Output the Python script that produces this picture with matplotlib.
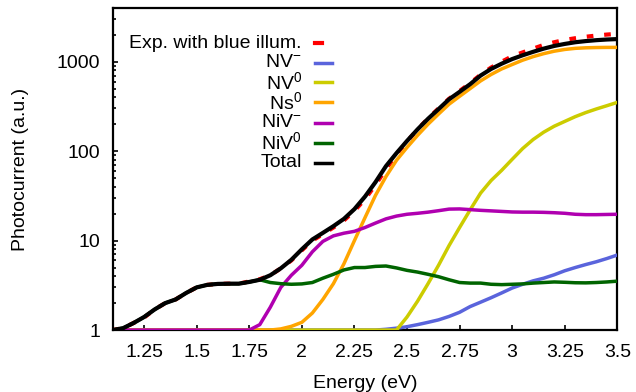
import numpy as np
import matplotlib
matplotlib.use("Agg")
import matplotlib.pyplot as plt
from matplotlib.lines import Line2D
from matplotlib.ticker import NullFormatter, LogLocator

plt.rcParams['font.family'] = ['Liberation Sans', 'DejaVu Sans']
plt.rcParams['mathtext.fontset'] = 'custom'
plt.rcParams['mathtext.rm'] = 'Liberation Sans'
plt.rcParams['mathtext.it'] = 'Liberation Sans:italic'
plt.rcParams['mathtext.default'] = 'regular'

# energy grid (eV), 0.05 step
energy = np.round(np.arange(1.10, 3.5001, 0.05), 2)

exp_blue = [1.0, 1.05, 1.2, 1.38, 1.7, 2.0, 2.2, 2.6, 3.0, 3.2, 3.28, 3.3, 3.3, 3.5, 3.7,
            4.1, 4.9, 6.0, 7.8, 10.0, 11.8, 14.0, 16.8, 21.5, 29, 42, 63, 92, 128, 175,
            232, 300, 385, 470, 575, 715, 860, 1000, 1150, 1270, 1400, 1540, 1650, 1750,
            1830, 1900, 1960, 2010, 2050]
nv_minus = [1.0] * 26 + [1.02, 1.05, 1.09, 1.15, 1.22, 1.3, 1.42, 1.58, 1.83, 2.05, 2.3,
                         2.6, 2.95, 3.25, 3.55, 3.8, 4.15, 4.6, 5.0, 5.4, 5.8, 6.3, 6.9]
nv_zero = [1.0] * 28 + [1.4, 2.1, 3.3, 5.3, 8.8, 14, 22, 34, 47, 61, 81, 107, 135, 163,
                        190, 215, 243, 270, 296, 322, 351]
ns_zero = [1.0] * 16 + [1.03, 1.1, 1.22, 1.55, 2.2, 3.3, 5.5, 10, 18, 32, 52, 79, 110, 150,
                        200, 260, 335, 410, 500, 610, 720, 830, 930, 1040, 1140, 1230,
                        1310, 1370, 1410, 1430, 1440, 1445, 1445]
niv_minus = [1.0] * 14 + [1.15, 1.8, 3.0, 4.1, 5.3, 7.5, 9.8, 11.3, 12.1, 12.7, 14, 15.7,
                          17.5, 18.8, 19.7, 20.2, 20.8, 21.6, 22.5, 22.6, 22.2, 21.8, 21.5,
                          21.2, 20.9, 20.8, 20.8, 20.7, 20.5, 20.2, 19.7, 19.5, 19.5, 19.6,
                          19.7]
niv_zero = [1.0, 1.05, 1.2, 1.4, 1.7, 2.0, 2.2, 2.6, 3.0, 3.2, 3.28, 3.3, 3.3, 3.45, 3.65,
            3.4, 3.3, 3.25, 3.28, 3.4, 3.8, 4.2, 4.7, 5.0, 5.0, 5.15, 5.2, 4.95, 4.65, 4.45,
            4.2, 3.95, 3.65, 3.4, 3.35, 3.35, 3.25, 3.22, 3.25, 3.28, 3.35, 3.4, 3.45, 3.42,
            3.38, 3.37, 3.4, 3.45, 3.52]
total = [1.0, 1.05, 1.2, 1.4, 1.7, 2.0, 2.2, 2.6, 3.0, 3.2, 3.28, 3.3, 3.3, 3.45, 3.65,
         4.1, 4.9, 6.1, 8.0, 10.3, 12.2, 14.5, 17.5, 22.5, 31, 45, 68, 95, 130, 175, 230,
         295, 380, 460, 560, 700, 830, 950, 1070, 1180, 1290, 1400, 1500, 1580, 1650, 1700,
         1740, 1770, 1790]

labels = ['Exp. with blue illum.', 'NV$^{-}$', 'NV$^{0}$', 'Ns$^{0}$', 'NiV$^{-}$',
          'NiV$^{0}$', 'Total']
series = [exp_blue, nv_minus, nv_zero, ns_zero, niv_minus, niv_zero, total]
colors = ['#ff0000', '#5a64dc', '#cccc00', '#ffa500', '#b000b0', '#006400', '#000000']

x_ticks = [1.25, 1.5, 1.75, 2, 2.25, 2.5, 2.75, 3, 3.25, 3.5]
y_ticks = [1, 10, 100, 1000]

fig = plt.figure(figsize=(6.36, 3.92), dpi=100)
ax = fig.add_axes([0.177, 0.158, 0.7936, 0.822])

for i, (vals, c) in enumerate(zip(series, colors)):
    if i == 0:
        ax.plot(energy, vals, color=c, lw=3, dashes=(1.6, 2.6), dash_capstyle='butt',
                zorder=2)
    elif i == len(series) - 1:
        ax.plot(energy, vals, color=c, lw=3, zorder=3 + i)
    else:
        ax.plot(energy, vals, color=c, lw=2.5, zorder=2 + i)

ax.set_yscale('log')
ax.set_xlim(1.1, 3.5)
ax.set_ylim(1, 4000)
ax.set_xticks(x_ticks, labels=['%g' % v for v in x_ticks])
ax.set_yticks(y_ticks, labels=[str(v) for v in y_ticks])
ax.yaxis.set_minor_locator(LogLocator(base=10, subs=np.arange(2, 10)))
ax.yaxis.set_minor_formatter(NullFormatter())
ax.tick_params(which='both', direction='in', labelsize=14, width=1.2)
ax.tick_params(which='major', length=3.8)
ax.tick_params(which='minor', length=2.2)
ax.tick_params(axis='x', pad=10)
ax.tick_params(axis='y', pad=9)
for s in ax.spines.values():
    s.set_linewidth(1.6)

ax.set_xlabel('Energy (eV)', fontsize=14, labelpad=10)
ax.set_ylabel('Photocurrent (a.u.)', fontsize=14, labelpad=20)

# gnuplot-style key: right-aligned text, sample to the right
key_y = [0.890, 0.830, 0.769, 0.707, 0.644, 0.582, 0.520]
for i, (lab, c, yy) in enumerate(zip(labels, colors, key_y)):
    ax.text(0.375, yy, lab, transform=ax.transAxes, ha='right', va='center', fontsize=14)
    if i == 0:
        ln = Line2D([0.401, 0.415], [yy, yy], color=c, lw=3, transform=ax.transAxes)
    else:
        ln = Line2D([0.401, 0.435], [yy, yy], color=c, lw=2.5, transform=ax.transAxes)
    ax.add_line(ln)

fig.savefig('out.png', dpi=100)
